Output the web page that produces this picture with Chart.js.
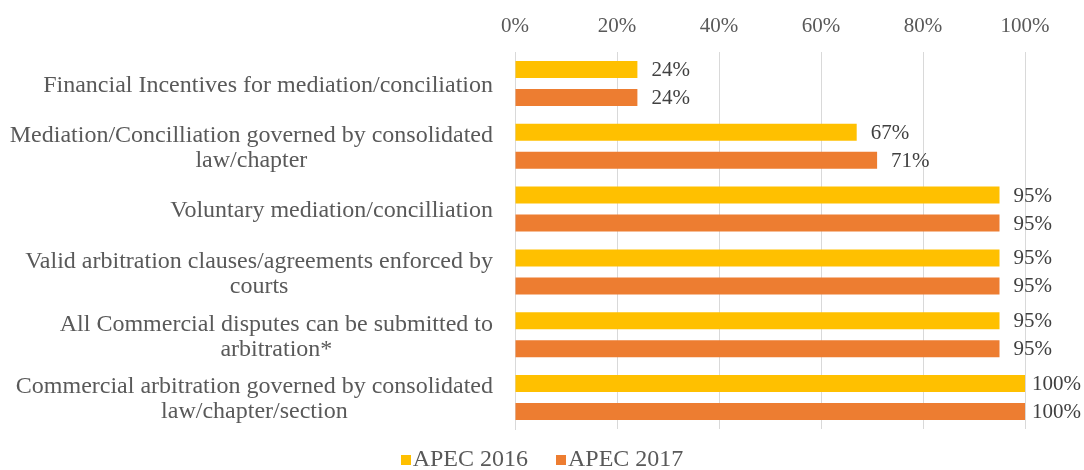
<!DOCTYPE html>
<html>
<head>
<meta charset="utf-8">
<script src="https://cdn.jsdelivr.net/npm/chart.js@4.4.1/dist/chart.umd.min.js"></script>
<style>
  html, body { margin: 0; padding: 0; background: #ffffff; }
  #wrap { position: relative; width: 1084px; height: 470px; }
  #legend {
    position: absolute; left: 0; right: 0; top: 444px;
    text-align: center; font: 24px "Liberation Serif", "Times New Roman", serif;
    color: #595959; line-height: 28px;
  }
  #legend span.item { display: inline-block; margin: 0 14px; }
  #legend span.box {
    display: inline-block; width: 10px; height: 10px; margin-right: 2px;
    vertical-align: 1px;
  }
</style>
</head>
<body>
<div id="wrap">
  <canvas id="chart"></canvas>
  <div id="legend"></div>
</div>
<script>
// Dispute resolution indicators, share of APEC economies (%)
const categories = [
    ['Financial Incentives for mediation/conciliation'],
    ['Mediation/Concilliation governed by consolidated', 'law/chapter'],
    ['Voluntary mediation/concilliation'],
    ['Valid arbitration clauses/agreements enforced by', 'courts'],
    ['All Commercial disputes can be submitted to', 'arbitration*'],
    ['Commercial arbitration governed by consolidated', 'law/chapter/section']
];
const seriesNames = ['APEC 2016', 'APEC 2017'];
const apec2016 = [24, 67, 95, 95, 95, 100];
const apec2017 = [24, 71, 95, 95, 95, 100];
const xTicks = [0, 20, 40, 60, 80, 100];
const colors = ['#ffc000', '#ed7d31'];

const SERIF = '"Liberation Serif", "Times New Roman", serif';
const GRID = '#d9d9d9';

// category labels: block right-aligned to the axis, lines centred on each other
const categoryLabels = {
    id: 'categoryLabels',
    afterDraw(chart) {
        const ctx = chart.ctx;
        const yScale = chart.scales.y;
        const right = chart.chartArea.left - 22;
        const lineH = 25;
        ctx.save();
        ctx.font = '24px ' + SERIF;
        ctx.fillStyle = '#595959';
        ctx.textAlign = 'center';
        ctx.textBaseline = 'middle';
        chart.data.labels.forEach((lines, i) => {
            const w = Math.max(...lines.map(l => ctx.measureText(l).width));
            const cx = right - w / 2;
            const cy = yScale.getPixelForTick(i);
            const top = cy - (lines.length - 1) * lineH / 2;
            lines.forEach((l, k) => ctx.fillText(l, cx, top + k * lineH + 2));
        });
        ctx.restore();
    }
};

// value labels to the right of each bar, kept inside the canvas
const barLabels = {
    id: 'barLabels',
    afterDatasetsDraw(chart) {
        const ctx = chart.ctx;
        ctx.save();
        ctx.font = '21px ' + SERIF;
        ctx.fillStyle = '#404040';
        ctx.textAlign = 'left';
        ctx.textBaseline = 'middle';
        chart.data.datasets.forEach((ds, i) => {
            chart.getDatasetMeta(i).data.forEach((bar, j) => {
                const txt = ds.data[j] + '%';
                const w = ctx.measureText(txt).width;
                const x = Math.min(bar.x + 14, chart.width - w - 3);
                ctx.fillText(txt, x, bar.y + 1);
            });
        });
        ctx.restore();
    }
};

const chart = new Chart(document.getElementById('chart'), {
    type: 'bar',
    data: {
        labels: categories,
        datasets: [
            {
                label: seriesNames[0],
                data: apec2016,
                backgroundColor: colors[0],
                barPercentage: 0.607,
                categoryPercentage: 0.892
            },
            {
                label: seriesNames[1],
                data: apec2017,
                backgroundColor: colors[1],
                barPercentage: 0.607,
                categoryPercentage: 0.892
            }
        ]
    },
    options: {
        indexAxis: 'y',
        responsive: true,
        maintainAspectRatio: false,
        animation: false,
        layout: { padding: { left: 0, right: 59, top: 8, bottom: 41 } },
        plugins: {
            legend: { display: false },
            tooltip: { enabled: false }
        },
        scales: {
            x: {
                position: 'top',
                min: 0,
                max: 100,
                afterBuildTicks: (scale) => {
                    scale.ticks = xTicks.map(v => ({ value: v }));
                },
                afterFit: (scale) => { scale.height = 44; },
                ticks: {
                    padding: 13,
                    color: '#595959',
                    font: { family: SERIF, size: 21 },
                    callback: (v) => v + '%'
                },
                grid: { color: GRID, drawTicks: false },
                border: { display: false }
            },
            y: {
                afterFit: (scale) => { scale.width = 515; },
                ticks: { display: false },
                grid: { display: false, drawTicks: false },
                border: { display: true, color: GRID }
            }
        }
    },
    plugins: [categoryLabels, barLabels]
});

// legend built from the same series names and colours
document.getElementById('legend').innerHTML = chart.data.datasets.map(ds =>
    `<span class="item"><span class="box" style="background:${ds.backgroundColor}"></span>${ds.label}</span>`
).join('');
</script>
</body>
</html>
